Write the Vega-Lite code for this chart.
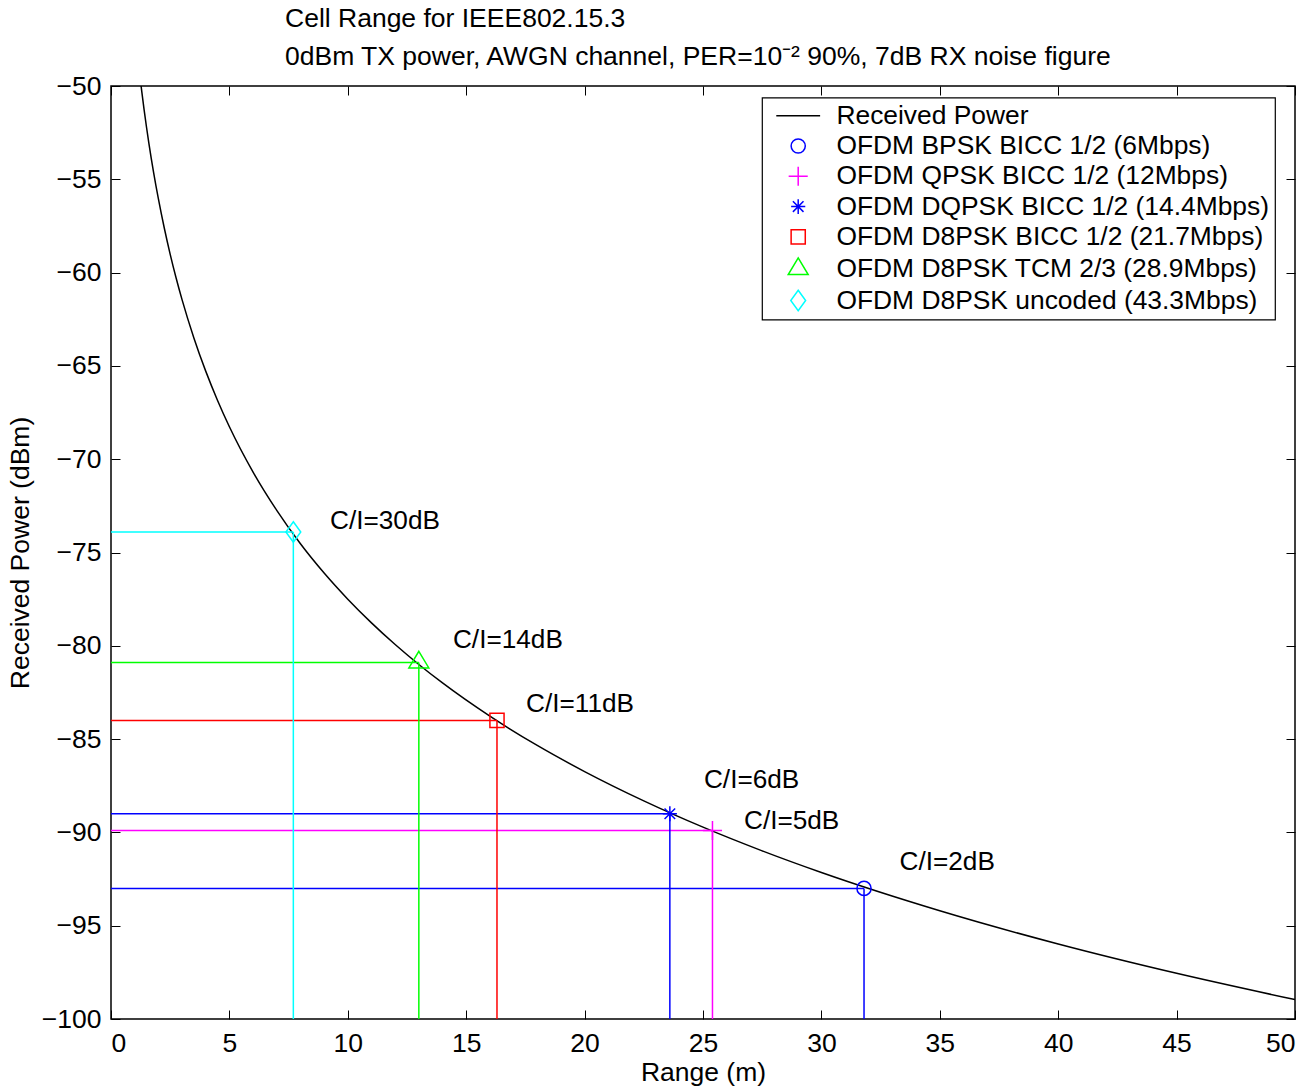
{
  "$schema": "https://vega.github.io/schema/vega-lite/v6.json",
  "width": 1184,
  "height": 933,
  "autosize": {"type": "none"},
  "padding": {"left": 111, "top": 86, "right": 19, "bottom": 71},
  "background": "white",
  "title": {
    "text": ["Cell Range for IEEE802.15.3", "\u00a00dBm TX power, AWGN channel, PER=10⁻² 90%, 7dB RX noise figure"],
    "anchor": "start",
    "frame": "group",
    "align": "left",
    "dx": 174,
    "fontSize": 26.5,
    "fontWeight": "normal",
    "font": "Liberation Sans",
    "color": "black",
    "lineHeight": 38,
    "offset": 3
  },
  "config": {
    "font": "Liberation Sans",
    "view": {"stroke": "black", "strokeWidth": 1.5},
    "axis": {
      "grid": false,
      "domain": false,
      "tickColor": "black",
      "tickSize": -9,
      "tickWidth": 1,
      "labelColor": "black",
      "labelFontSize": 26.5,
      "labelFont": "Liberation Sans",
      "titleColor": "black",
      "titleFontSize": 26.5,
      "titleFont": "Liberation Sans",
      "titleFontWeight": "normal"
    },
    "legend": {
      "orient": "none",
      "legendX": 651,
      "legendY": 11.5,
      "strokeColor": "black",
      "fillColor": "white",
      "strokeWidth": 1.2,
      "padding": 5,
      "labelFontSize": 26.4,
      "labelFont": "Liberation Sans",
      "labelColor": "black",
      "labelLimit": 0,
      "symbolSize": 200,
      "symbolStrokeWidth": 1.5,
      "rowPadding": 3.3,
      "symbolOffset": 18,
      "labelOffset": 25
    }
  },
  "datasets": {
    "curve": [
      {"d": 1.25, "P": -49.78}, {"d": 1.3, "P": -50.3}, {"d": 1.4, "P": -51.29}, {"d": 1.5, "P": -52.21}, {"d": 1.6, "P": -53.07},
      {"d": 1.8, "P": -54.64}, {"d": 2.0, "P": -56.04}, {"d": 2.25, "P": -57.61}, {"d": 2.5, "P": -59.02},
      {"d": 2.75, "P": -60.29}, {"d": 3.0, "P": -61.45}, {"d": 3.5, "P": -63.5}, {"d": 4.0, "P": -65.28},
      {"d": 4.5, "P": -66.85}, {"d": 5, "P": -68.26}, {"d": 6, "P": -70.69}, {"d": 7, "P": -72.74},
      {"d": 8, "P": -74.53}, {"d": 9, "P": -76.1}, {"d": 10, "P": -77.5}, {"d": 11, "P": -78.77},
      {"d": 12, "P": -79.93}, {"d": 13, "P": -81.0}, {"d": 14, "P": -81.99}, {"d": 16, "P": -83.77},
      {"d": 18, "P": -85.34}, {"d": 20, "P": -86.74}, {"d": 22.5, "P": -88.31}, {"d": 25, "P": -89.72},
      {"d": 27.5, "P": -90.99}, {"d": 30, "P": -92.15}, {"d": 35, "P": -94.2}, {"d": 40, "P": -95.98},
      {"d": 45, "P": -97.55}, {"d": 50, "P": -98.96}
    ],
    "markers": [
      {"series": "OFDM BPSK BICC 1/2 (6Mbps)", "d": 31.8, "P": -93.0},
      {"series": "OFDM QPSK BICC 1/2 (12Mbps)", "d": 25.4, "P": -89.9},
      {"series": "OFDM DQPSK BICC 1/2 (14.4Mbps)", "d": 23.6, "P": -89.0},
      {"series": "OFDM D8PSK BICC 1/2 (21.7Mbps)", "d": 16.3, "P": -84.0},
      {"series": "OFDM D8PSK TCM 2/3 (28.9Mbps)", "d": 13.0, "P": -80.9},
      {"series": "OFDM D8PSK uncoded (43.3Mbps)", "d": 7.7, "P": -73.9}
    ],
    "labels": [
      {"label": "C/I=2dB", "lx": 33.3, "ly": -91.6},
      {"label": "C/I=5dB", "lx": 26.73, "ly": -89.4},
      {"label": "C/I=6dB", "lx": 25.04, "ly": -87.2},
      {"label": "C/I=11dB", "lx": 17.53, "ly": -83.1},
      {"label": "C/I=14dB", "lx": 14.44, "ly": -79.7},
      {"label": "C/I=30dB", "lx": 9.25, "ly": -73.3}
    ]
  },
  "resolve": {"axis": {"x": "independent", "y": "independent"}},
  "layer": [
    {
      "data": {"name": "curve"},
      "mark": {"type": "line", "color": "black", "strokeWidth": 1.5, "clip": true, "interpolate": "monotone"},
      "encoding": {
        "x": {"field": "d", "type": "quantitative", "scale": {"domain": [0, 50], "nice": false, "zero": false},
              "axis": {"orient": "bottom", "title": "Range (m)", "values": [0,5,10,15,20,25,30,35,40,45,50], "labelPadding": 20, "titlePadding": 3}},
        "y": {"field": "P", "type": "quantitative", "scale": {"domain": [-100, -50], "nice": false, "zero": false},
              "axis": {"orient": "left", "title": "Received Power (dBm)", "values": [-100,-95,-90,-85,-80,-75,-70,-65,-60,-55,-50], "labelPadding": 19, "titlePadding": 7}}
      }
    },
    {
      "data": {"name": "markers"},
      "mark": {"type": "rule", "strokeWidth": 1.5},
      "encoding": {
        "x": {"field": "d", "type": "quantitative", "axis": null},
        "x2": {"datum": 0},
        "y": {"field": "P", "type": "quantitative", "axis": null},
        "stroke": {"field": "series", "type": "nominal", "legend": null,
          "scale": {
            "domain": ["OFDM BPSK BICC 1/2 (6Mbps)", "OFDM QPSK BICC 1/2 (12Mbps)", "OFDM DQPSK BICC 1/2 (14.4Mbps)", "OFDM D8PSK BICC 1/2 (21.7Mbps)", "OFDM D8PSK TCM 2/3 (28.9Mbps)", "OFDM D8PSK uncoded (43.3Mbps)"],
            "range": ["#0000ff", "#ff00ff", "#0000ff", "#ff0000", "#00ff00", "#00ffff"]
          }}
      }
    },
    {
      "data": {"name": "markers"},
      "mark": {"type": "rule", "strokeWidth": 1.5},
      "encoding": {
        "x": {"field": "d", "type": "quantitative", "axis": null},
        "y": {"field": "P", "type": "quantitative", "axis": null},
        "y2": {"datum": -100},
        "stroke": {"field": "series", "type": "nominal", "legend": null,
          "scale": {
            "domain": ["OFDM BPSK BICC 1/2 (6Mbps)", "OFDM QPSK BICC 1/2 (12Mbps)", "OFDM DQPSK BICC 1/2 (14.4Mbps)", "OFDM D8PSK BICC 1/2 (21.7Mbps)", "OFDM D8PSK TCM 2/3 (28.9Mbps)", "OFDM D8PSK uncoded (43.3Mbps)"],
            "range": ["#0000ff", "#ff00ff", "#0000ff", "#ff0000", "#00ff00", "#00ffff"]
          }}
      }
    },
    {
      "data": {"name": "markers"},
      "mark": {"type": "point", "filled": false, "strokeWidth": 1.5, "size": 200, "opacity": 1},
      "encoding": {
        "x": {"field": "d", "type": "quantitative", "axis": null},
        "y": {"field": "P", "type": "quantitative", "axis": null},
        "color": {
          "field": "series", "type": "nominal",
          "scale": {
            "domain": ["Received Power", "OFDM BPSK BICC 1/2 (6Mbps)", "OFDM QPSK BICC 1/2 (12Mbps)", "OFDM DQPSK BICC 1/2 (14.4Mbps)", "OFDM D8PSK BICC 1/2 (21.7Mbps)", "OFDM D8PSK TCM 2/3 (28.9Mbps)", "OFDM D8PSK uncoded (43.3Mbps)"],
            "range": ["#000000", "#0000ff", "#ff00ff", "#0000ff", "#ff0000", "#00ff00", "#00ffff"]
          },
          "legend": {"title": null, "labelExpr": "datum.label + '\u00a0'"}
        },
        "shape": {
          "field": "series", "type": "nominal",
          "scale": {
            "domain": ["Received Power", "OFDM BPSK BICC 1/2 (6Mbps)", "OFDM QPSK BICC 1/2 (12Mbps)", "OFDM DQPSK BICC 1/2 (14.4Mbps)", "OFDM D8PSK BICC 1/2 (21.7Mbps)", "OFDM D8PSK TCM 2/3 (28.9Mbps)", "OFDM D8PSK uncoded (43.3Mbps)"],
            "range": ["M-3.1,0L3.1,0", "circle", "M-1.35,0L1.35,0M0,-1.35L0,1.35", "M0,-1.05L0,1.05M-1,0L1,0M-0.75,-0.75L0.75,0.75M-0.75,0.75L0.75,-0.75", "square", "M0,-1.6L1.41,0.75L-1.41,0.75Z", "M0,-1.45L1.05,0L0,1.45L-1.05,0Z"]
          },
          "legend": {"title": null, "labelExpr": "datum.label + '\u00a0'"}
        }
      }
    },
    {
      "data": {"name": "labels"},
      "mark": {"type": "text", "align": "left", "baseline": "middle", "fontSize": 26.2, "font": "Liberation Sans", "color": "black"},
      "encoding": {
        "x": {"field": "lx", "type": "quantitative",
              "axis": {"orient": "top", "labels": false, "title": null, "values": [0,5,10,15,20,25,30,35,40,45,50]}},
        "y": {"field": "ly", "type": "quantitative",
              "axis": {"orient": "right", "labels": false, "title": null, "values": [-100,-95,-90,-85,-80,-75,-70,-65,-60,-55,-50]}},
        "text": {"field": "label"}
      }
    }
  ]
}
